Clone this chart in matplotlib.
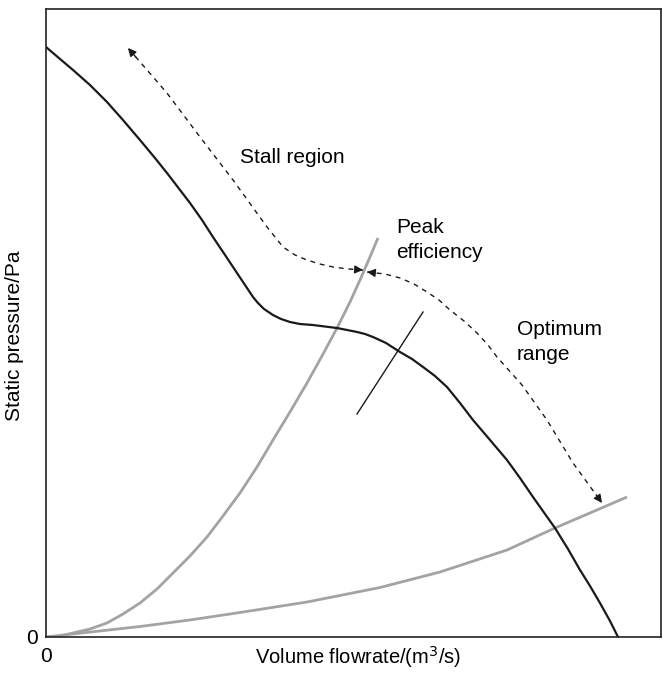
import matplotlib
matplotlib.use("Agg")
import matplotlib.pyplot as plt

plt.rcParams['font.family'] = ['Liberation Sans', 'DejaVu Sans']

# Fan characteristic (static pressure vs volume flowrate), arbitrary units 0-100
fan_x = [0.0, 2.28, 4.39, 7.15, 9.92, 12.52, 15.28, 17.72, 19.67, 21.79, 23.41, 25.37,
         27.15, 28.78, 30.41, 32.03, 33.66, 34.47, 35.45, 36.91, 38.21, 39.67, 41.30,
         43.41, 45.37, 47.32, 48.94, 50.57, 51.87, 53.17, 55.28, 57.56, 59.51, 61.30,
         63.25, 65.20, 67.32, 69.43, 72.20, 74.96, 77.07, 79.19, 81.14, 82.76, 84.88,
         86.83, 88.46, 90.08, 91.71, 93.01]
fan_y = [93.95, 92.04, 90.29, 87.90, 85.19, 82.32, 79.14, 76.27, 73.89, 71.18, 69.11, 66.40,
         63.69, 61.31, 58.92, 56.53, 54.14, 53.18, 52.23, 51.27, 50.64, 50.16, 49.84,
         49.68, 49.44, 49.20, 48.89, 48.57, 48.25, 47.77, 46.82, 45.38, 44.27, 43.00,
         41.56, 39.81, 37.26, 34.55, 31.37, 28.18, 25.32, 22.29, 19.59, 17.36, 14.01,
         10.67, 8.12, 5.41, 2.55, 0.0]

# System curves
sys1_x = [0.0, 2.28, 4.39, 7.15, 9.92, 12.52, 15.28, 18.05, 20.65, 23.41, 26.18, 28.78,
          31.54, 34.31, 36.91, 39.67, 42.44, 44.88, 47.32, 49.43, 51.06, 52.68, 53.98]
sys1_y = [0.0, 0.16, 0.64, 1.27, 2.23, 3.66, 5.41, 7.64, 10.19, 12.90, 15.92, 19.27,
          22.93, 27.07, 31.37, 35.83, 40.45, 44.75, 49.20, 53.34, 56.85, 60.51, 63.54]
sys2_x = [0.0, 4.39, 8.78, 15.28, 23.41, 31.54, 42.44, 54.31, 64.07, 74.96, 82.76, 88.46, 94.47]
sys2_y = [0.0, 0.48, 0.96, 1.67, 2.71, 3.90, 5.57, 7.88, 10.35, 13.85, 17.36, 19.75, 22.29]

# Efficiency marker line
eff_x = [50.57, 61.30]
eff_y = [35.51, 51.75]

# Dashed annotation paths
stall_x = [51.54, 49.11, 46.67, 44.55, 42.44, 40.49, 38.54, 35.93, 30.41, 25.04, 19.67, 13.33]
stall_y = [58.44, 58.60, 58.92, 59.39, 60.03, 60.83, 62.10, 65.29, 72.77, 79.62, 86.62, 93.79]
opt_x = [52.20, 55.12, 57.56, 59.84, 61.95, 63.90, 65.69, 67.97, 70.08, 71.87, 73.33,
         77.40, 81.46, 85.69, 90.41]
opt_y = [58.12, 57.80, 57.17, 56.21, 54.94, 53.66, 52.07, 50.32, 48.41, 46.50, 44.59,
         40.13, 34.55, 27.71, 21.34]

W, H = 663, 674
fig = plt.figure(figsize=(W / 100, H / 100), dpi=100)
ax = fig.add_axes([46 / W, 37 / H, 615 / W, 628 / H])

gray = '#a3a3a3'
dark = '#1a1a1a'
ax.plot(sys1_x, sys1_y, color=gray, lw=2.0, solid_capstyle='butt')
ax.plot(sys2_x, sys2_y, color=gray, lw=2.0, solid_capstyle='butt')
ax.plot(fan_x, fan_y, color=dark, lw=1.6, solid_joinstyle='round')
ax.plot(eff_x, eff_y, color=dark, lw=1.0)


def dashed_double_arrow(xs, ys):
    ax.plot(xs, ys, color=dark, lw=1.0, dashes=(3.5, 3.5))
    for (x0, y0), (x1, y1) in [((xs[1], ys[1]), (xs[0], ys[0])),
                               ((xs[-2], ys[-2]), (xs[-1], ys[-1]))]:
        ax.annotate('', xy=(x1, y1),
                    xytext=(x0 + 0.8 * (x1 - x0), y0 + 0.8 * (y1 - y0)),
                    arrowprops=dict(arrowstyle='-|>', color=dark, lw=1.0,
                                    mutation_scale=12, shrinkA=0, shrinkB=0))


dashed_double_arrow(stall_x, stall_y)
dashed_double_arrow(opt_x, opt_y)

fs = 15
ax.text(31.6, 76.3, 'Stall region', fontsize=fs, ha='left', va='center')
ax.text(56.9, 63.2, 'Peak\nefficiency', fontsize=fs, ha='left', va='center', linespacing=1.4)
ax.text(76.6, 47.05, 'Optimum\nrange', fontsize=fs, ha='left', va='center', linespacing=1.4)

ax.set_xlim(0, 100)
ax.set_ylim(0, 100)
ax.set_xticks([0])
ax.set_yticks([0])
ax.set_xticklabels(['0'], fontsize=fs)
ax.set_yticklabels(['0'], fontsize=fs)
ax.tick_params(axis='x', length=0, pad=7)
ax.tick_params(axis='y', length=0, pad=6)
for s in ax.spines.values():
    s.set_linewidth(1.2)
    s.set_color('#222222')

fig.text(358 / W, 1 - 657 / H, 'Volume flowrate/(m$^3$/s)', fontsize=14.5,
         ha='center', va='center')
fig.text(15 / W, 1 - 336 / H, 'Static pressure/Pa', fontsize=fs,
         ha='center', va='center', rotation=90)

fig.savefig('out.png', dpi=100)
